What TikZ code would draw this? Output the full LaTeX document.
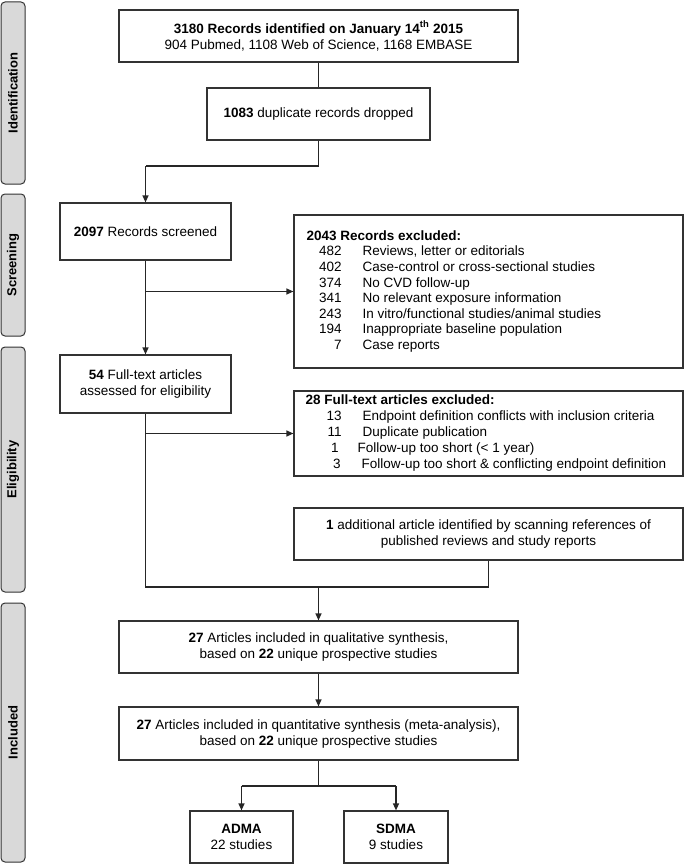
\documentclass[tikz,border=0pt]{standalone}
\usepackage{fontspec}
\setmainfont{Liberation Sans}
\usetikzlibrary{arrows.meta}
\definecolor{edge}{HTML}{333333}
\definecolor{sidefill}{HTML}{D9D9D9}
\newcommand{\exrow}[3]{\hspace*{#3}\makebox[23pt][r]{#1}\hspace{21pt}#2}
\begin{document}
\begin{tikzpicture}[x=1pt,y=-1pt,
  box/.style={draw=edge,line width=1.2pt,fill=white,inner sep=0pt,align=center,
    font=\fontsize{13.5}{16}\selectfont},
  listtext/.style={anchor=west,inner sep=0pt,align=left,
    font=\fontsize{13.5}{15.6}\selectfont},
  side/.style={draw=edge,line width=1pt,fill=sidefill,rounded corners=4pt,
    minimum width=24pt,inner sep=0pt},
  sidetext/.style={rotate=90,font=\fontsize{13}{15}\selectfont\bfseries},
  conn/.style={draw=black!85,line width=1.3pt},
  arr/.style={conn,-{Triangle[length=7pt,width=6pt]}}
]
\useasboundingbox (0,0) rectangle (685,864);

% side labels
\node[side,minimum height=182pt] (sI) at (13,93) {};
\node[sidetext] (tI) at (sI.center) {Identification};
\node[side,minimum height=142pt] (sS) at (13,265) {};
\node[sidetext] (tS) at (sS.center) {Screening};
\node[side,minimum height=245pt] (sE) at (13,469.5) {};
\node[sidetext] (tE) at (sE.center) {Eligibility};
\node[side,minimum height=259pt] (sN) at (13,732.5) {};
\node[sidetext] (tN) at (sN.center) {Included};

% boxes
\node[box,minimum width=399pt,minimum height=52pt] (b1) at (318.5,36)
  {\textbf{3180 Records identified on January 14\textsuperscript{th} 2015}\\904 Pubmed, 1108 Web of Science, 1168 EMBASE};
\node[box,minimum width=223pt,minimum height=52pt] (b2) at (318.5,114)
  {\textbf{1083} duplicate records dropped};
\node[box,minimum width=171pt,minimum height=57pt] (b3) at (145.5,231.5)
  {\textbf{2097} Records screened};
\node[box,minimum width=389pt,minimum height=153pt] (b4) at (488.5,291.5) {};
\node[listtext] (t4) at ([xshift=13pt]b4.west)
  {\textbf{2043 Records excluded:}\\
   \exrow{482}{Reviews, letter or editorials}{12pt}\\
   \exrow{402}{Case-control or cross-sectional studies}{12pt}\\
   \exrow{374}{No CVD follow-up}{12pt}\\
   \exrow{341}{No relevant exposure information}{12pt}\\
   \exrow{243}{In vitro/functional studies/animal studies}{12pt}\\
   \exrow{194}{Inappropriate baseline population}{12pt}\\
   \exrow{7}{Case reports}{12pt}};
\node[box,minimum width=171pt,minimum height=58pt] (b5) at (145.5,384)
  {\textbf{54} Full-text articles\\assessed for eligibility};
\node[box,minimum width=389pt,minimum height=85pt] (b6) at (488.5,433.5) {};
\node[listtext,font=\fontsize{13.5}{16}\selectfont] (t6) at ([xshift=12pt]b6.west)
  {\textbf{28 Full-text articles excluded:}\\
   \exrow{13}{Endpoint definition conflicts with inclusion criteria}{13pt}\\
   \exrow{11}{Duplicate publication}{13pt}\\
   \hspace*{10pt}\makebox[23pt][r]{1}\hspace{19pt}Follow-up too short (< 1 year)\\
   \exrow{3}{Follow-up too short \& conflicting endpoint definition}{12pt}};
\node[box,minimum width=389pt,minimum height=52pt] (b7) at (488.5,534)
  {\textbf{1} additional article identified by scanning references of\\published reviews and study reports};
\node[box,minimum width=399pt,minimum height=52pt] (b8) at (318.5,647)
  {\textbf{27} Articles included in qualitative synthesis,\\based on \textbf{22} unique prospective studies};
\node[box,minimum width=399pt,minimum height=53pt] (b9) at (318.5,733.5)
  {\textbf{27} Articles included in quantitative synthesis (meta-analysis),\\based on \textbf{22} unique prospective studies};
\node[box,minimum width=103pt,minimum height=52pt] (b10) at (241.5,837)
  {\textbf{ADMA}\\22 studies};
\node[box,minimum width=104pt,minimum height=52pt] (b11) at (396,837)
  {\textbf{SDMA}\\9 studies};

% junction coordinates
\coordinate (j1) at (318.5,166);
\coordinate (j2) at (145.5,166);
\coordinate (j3) at (145.5,587);
\coordinate (j4) at (488.5,587);
\coordinate (j5) at (318.5,587);
\coordinate (j6) at (318.5,786);
\coordinate (j7) at (241.5,786);
\coordinate (j8) at (396,786);

% connectors
\draw[conn,line width=0.9pt] (b1.south) -- (b2.north);
\draw[conn] (b2.south) -- (j1) -- (j2);
\draw[arr] (j2) -- (b3.north);
\draw[arr] (b3.south) -- (b5.north);
\draw[arr] (b3.south |- b4.west) -- (b4.west);
\draw[arr] (b5.south |- b6.west) -- (b6.west);
\draw[conn] (b5.south) -- (j3) -- (j4) -- (b7.south);
\draw[arr] (j5) -- (b8.north);
\draw[arr] (b8.south) -- (b9.north);
\draw[conn,line width=0.9pt] (b9.south) -- (j6);
\draw[conn] (j7) -- (j8);
\draw[arr] (j7) -- (b10.north);
\draw[arr] (j8) -- (b11.north);
\end{tikzpicture}
\end{document}
